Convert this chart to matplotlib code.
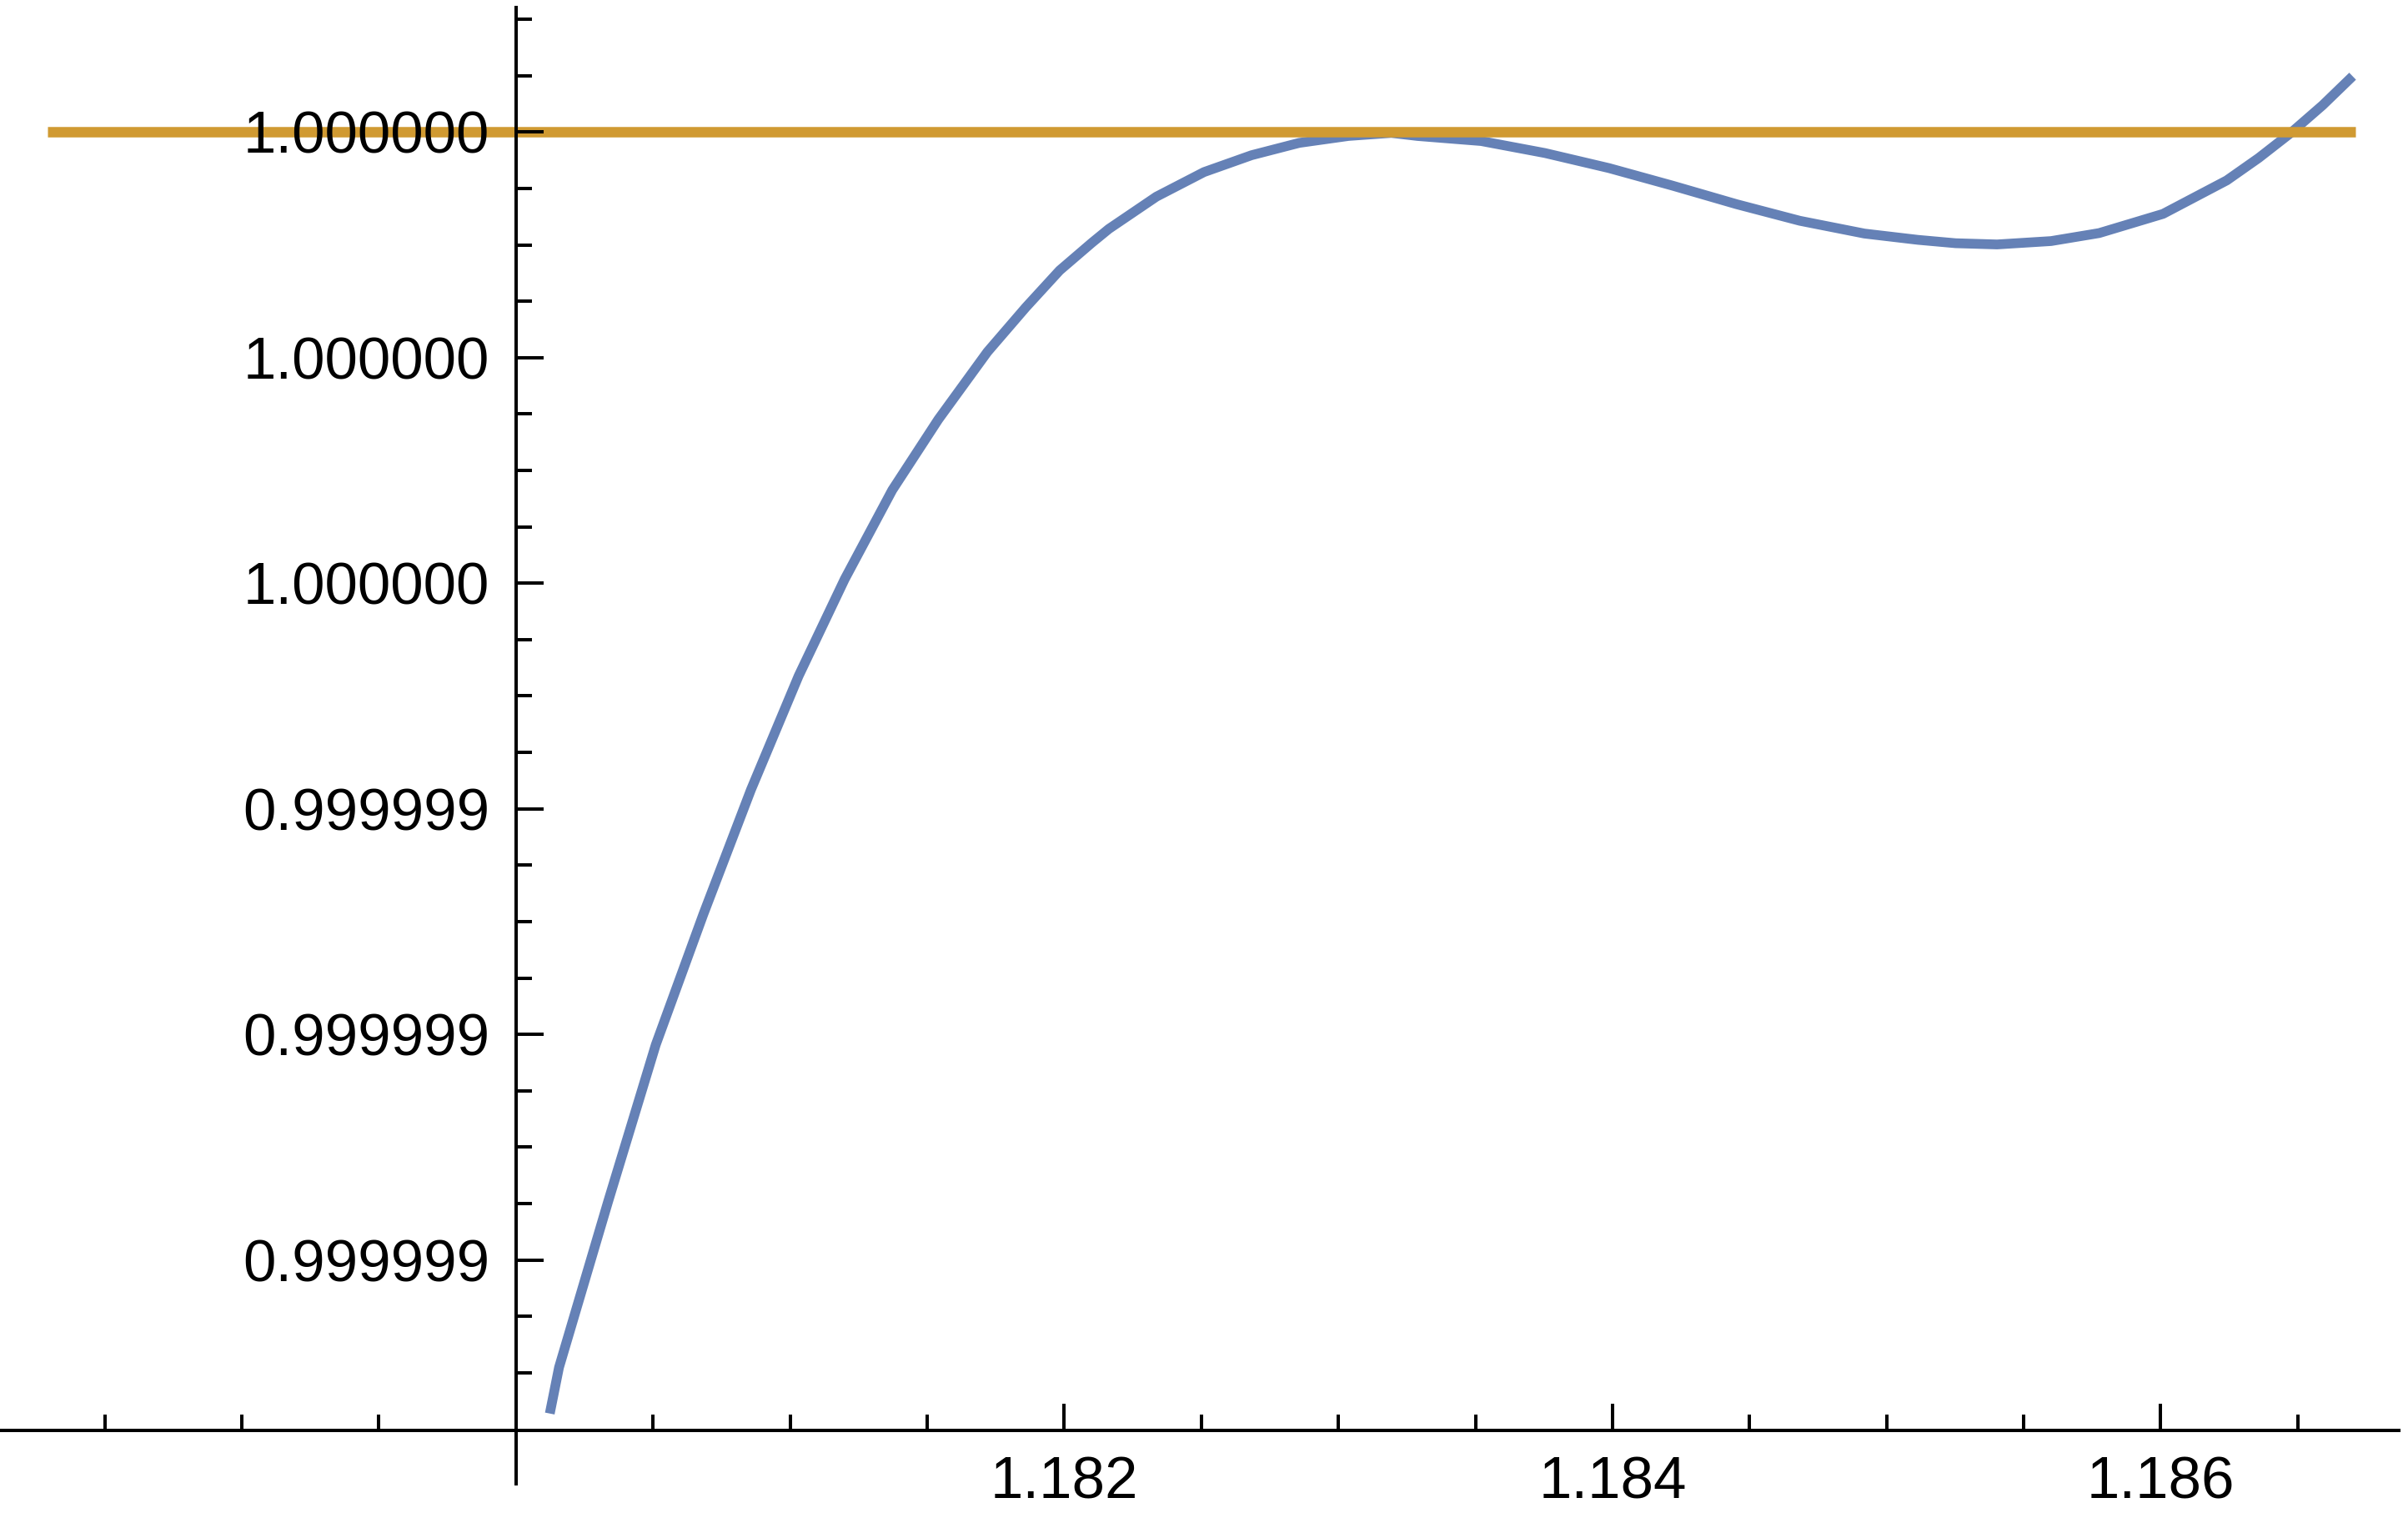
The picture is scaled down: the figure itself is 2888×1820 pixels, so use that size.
import matplotlib
matplotlib.use("Agg")
import matplotlib.pyplot as plt
from matplotlib.ticker import FixedLocator, FixedFormatter, NullFormatter

# ---------------- data ----------------
curve_x = [1.1801232, 1.1801569, 1.1803361, 1.1805098, 1.1806835, 1.1808571,
           1.1810308, 1.1811989, 1.1813725, 1.1815406, 1.1817199, 1.1818599,
           1.1819832, 1.1821008, 1.1821625, 1.1823361, 1.1825098, 1.1826835,
           1.1828571, 1.1830364, 1.1831933, 1.1832885, 1.1835210, 1.1837535,
           1.1839871, 1.1842185, 1.1844527, 1.1846835, 1.1849188, 1.1851138,
           1.1852516, 1.1854029, 1.1856000, 1.1857753, 1.1860084, 1.1862409,
           1.1863574, 1.1864739, 1.1865905, 1.1867000]
curve_y = [0.99999886376, 0.99999890463, 0.99999905177, 0.99999919074,
           0.99999930654, 0.99999941689, 0.99999951771, 0.99999960354,
           0.99999968256, 0.99999974523, 0.99999980518, 0.99999984469,
           0.99999987738, 0.99999990191, 0.99999991417, 0.99999994278,
           0.99999996458, 0.99999997956, 0.99999999046, 0.99999999659,
           0.99999999932, 0.99999999659, 0.99999999210, 0.99999998147,
           0.99999996812, 0.99999995259, 0.99999993610, 0.99999992139,
           0.99999991008, 0.99999990450, 0.99999990150, 0.99999990041,
           0.99999990341, 0.99999991049, 0.99999992752, 0.99999995722,
           0.99999997711, 0.99999999918, 1.00000002384, 1.00000004959]

ref_x = [1.17829, 1.18671]
ref_y = [1.0, 1.0]

x_major_ticks = [1.182, 1.184, 1.186]
x_major_labels = ["1.182", "1.184", "1.186"]
x_minor_ticks = [1.1785, 1.1790, 1.1795, 1.1805, 1.1810, 1.1815, 1.1825,
                 1.1830, 1.1835, 1.1845, 1.1850, 1.1855, 1.1865]

y_major_ticks = [1.0, 0.9999998, 0.9999996, 0.9999994, 0.9999992, 0.9999990]
y_major_labels = ["1.000000", "1.000000", "1.000000",
                  "0.999999", "0.999999", "0.999999"]
y_minor_ticks = [1.0000001, 1.00000005, 0.99999995, 0.9999999, 0.99999985,
                 0.99999975, 0.9999997, 0.99999965, 0.99999955, 0.9999995,
                 0.99999945, 0.99999935, 0.9999993, 0.99999925, 0.99999915,
                 0.9999991, 0.99999905, 0.99999895, 0.9999989]

# ---------------- layout ----------------
X_LIM = (1.1781176, 1.1869020)
Y_LIM = (0.99999877112, 1.00000011717)
Y_AXIS_AT = 1.180
X_AXIS_AT = 0.99999884877
Y_AXIS_BOUNDS = (0.99999880109, 1.00000011035)
X_AXIS_BOUNDS = (1.1781176, 1.1868683)

BLUE = "#6581b6"
ORANGE = "#d09a32"

plt.rcParams["font.family"] = ["Liberation Sans", "DejaVu Sans"]

fig = plt.figure(figsize=(14.44, 9.10), dpi=200)
ax = fig.add_axes([0, 0, 1, 1])
ax.patch.set_alpha(0)

ax.plot(curve_x, curve_y, color=BLUE, lw=4.2, solid_capstyle="butt",
        solid_joinstyle="round", zorder=1.8)
ax.plot(ref_x, ref_y, color=ORANGE, lw=4.5, solid_capstyle="butt", zorder=1.9)

ax.set_xlim(*X_LIM)
ax.set_ylim(*Y_LIM)

for s in ("top", "right"):
    ax.spines[s].set_visible(False)
ax.spines["left"].set_position(("data", Y_AXIS_AT))
ax.spines["bottom"].set_position(("data", X_AXIS_AT))
ax.spines["left"].set_bounds(*Y_AXIS_BOUNDS)
ax.spines["bottom"].set_bounds(*X_AXIS_BOUNDS)
for s in ("left", "bottom"):
    ax.spines[s].set_linewidth(1.45)
    ax.spines[s].set_color("black")
    ax.spines[s].set_zorder(3)

ax.xaxis.set_major_locator(FixedLocator(x_major_ticks))
ax.xaxis.set_major_formatter(FixedFormatter(x_major_labels))
ax.xaxis.set_minor_locator(FixedLocator(x_minor_ticks))
ax.xaxis.set_minor_formatter(NullFormatter())
ax.yaxis.set_major_locator(FixedLocator(y_major_ticks))
ax.yaxis.set_major_formatter(FixedFormatter(y_major_labels))
ax.yaxis.set_minor_locator(FixedLocator(y_minor_ticks))
ax.yaxis.set_minor_formatter(NullFormatter())

ax.set_axisbelow(False)
ax.tick_params(axis="both", which="major", direction="in", length=11.7,
               width=1.45, labelsize=25.5, colors="black")
ax.tick_params(axis="both", which="minor", direction="in", length=6.9,
               width=1.45, colors="black")
ax.tick_params(axis="y", which="major", pad=11.5)
ax.tick_params(axis="x", which="major", pad=11)

fig.savefig("out.png", dpi=200, facecolor="white")
